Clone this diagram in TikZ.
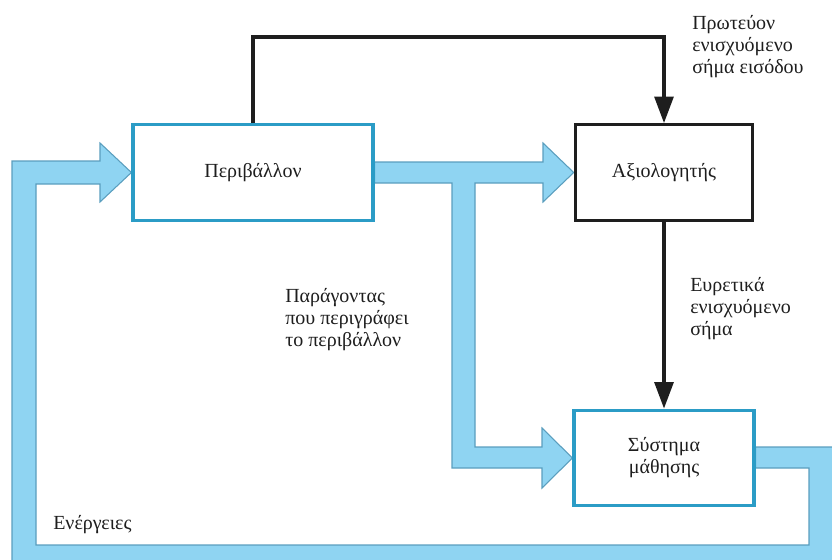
\documentclass[tikz,border=0pt]{standalone}
\usepackage{fontspec}
\setmainfont{Liberation Serif}
\usetikzlibrary{arrows.meta,backgrounds}
\definecolor{bandfill}{HTML}{8FD4F2}
\definecolor{bandedge}{HTML}{5A9EBE}
\definecolor{boxedge}{HTML}{2B9CC6}
\definecolor{ink}{HTML}{1E1E1E}
\begin{document}
\begin{tikzpicture}[x=0.75pt,y=-0.75pt,
  font=\fontsize{15}{16.5}\selectfont,
  blockcyan/.style={draw=boxedge, line width=2.4pt, fill=white, minimum height=71.5pt, align=center, text=ink},
  blockblack/.style={draw=ink, line width=2.4pt, fill=white, minimum height=71.5pt, align=center, text=ink},
  band/.style={fill=bandfill, draw=bandedge, line width=0.8pt, line join=miter},
  signal/.style={draw=ink, line width=3pt, -{Triangle[length=20pt,width=14pt]}},
  note/.style={align=left, anchor=north west, inner sep=0pt, text=ink}]
\useasboundingbox (0,0) rectangle (832,560);

% blocks
\node[blockcyan,  minimum width=180pt] (env)   at (253,172.5) {Περιβάλλον};
\node[blockblack, minimum width=133pt] (eval)  at (664,172.5) {Αξιολογητής};
\node[blockcyan,  minimum width=135pt] (learn) at (664,458)   {Σύστημα\\μάθησης};

% broad state and action paths behind the blocks
\begin{scope}[on background layer]
  \clip (0,0) rectangle (832,560);
  % actions: learning system back to the environment
  \path[band] (learn.east |- 0,447) -- (834,447) -- (834,569) -- (12,569)
    -- (12,161) -- (100,161) -- (100,143) -- (env.west) -- (100,202)
    -- (100,184) -- (36,184) -- (36,545) -- (809,545) -- (809,468)
    -- (learn.east |- 0,468) -- cycle;
  % state: environment to critic and learning system
  \path[band] (env.east |- 0,162) -- (543,162) -- (543,143) -- (eval.west)
    -- (543,202) -- (543,183) -- (475,183) -- (475,447) -- (542,447)
    -- (542,428) -- (learn.west) -- (542,488) -- (542,468) -- (452,468)
    -- (452,183) -- (env.east |- 0,183) -- cycle;
\end{scope}

% reinforcement signals
\draw[signal] (env.north) -- (env.north |- 0,37) -| (eval.north);
\draw[signal] (eval.south) -- (learn.north);

% labels
\node[note] (primary) at (692,15)  {Πρωτεύον\\ενισχυόμενο\\σήμα εισόδου};
\node[note] (state)   at (285,288) {Παράγοντας\\που περιγράφει\\το περιβάλλον};
\node[note] (heur)    at (690,277) {Ευρετικά\\ενισχυόμενο\\σήμα};
\node[note] (acts)    at (53,515)  {Ενέργειες};
\end{tikzpicture}
\end{document}
